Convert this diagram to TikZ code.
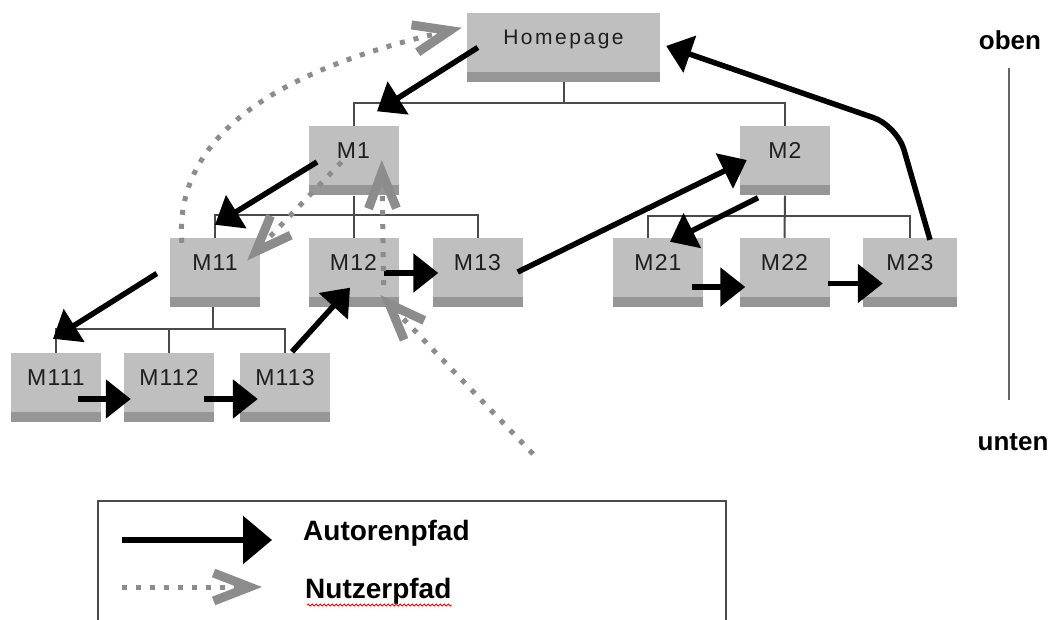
\documentclass[tikz,border=0pt]{standalone}
\usepackage{fontspec}
\setmainfont{Liberation Sans}
\newfontfamily\pagefont[LetterSpace=5]{Liberation Sans}
\newfontfamily\homefont[LetterSpace=12]{Liberation Sans}
\usetikzlibrary{arrows.meta,calc,shadows,decorations.pathmorphing}
\definecolor{PageGray}{HTML}{BFBFBF}
\definecolor{PageShade}{HTML}{969696}
\definecolor{TreeGray}{HTML}{4A4A4A}
\definecolor{UserGray}{HTML}{8C8C8C}
\definecolor{LabelGray}{HTML}{1E1E1E}
\tikzset{
  page/.style={rectangle, fill=PageGray, minimum width=90pt, minimum height=59pt,
    inner sep=0pt, text=LabelGray, font=\pagefont\fontsize{23}{23}\selectfont,
    text height=16.5pt, text depth=11pt,
    general shadow={shadow yshift=-10pt, fill=PageShade}},
  tree/.style={TreeGray, line width=2pt},
  autorpfad/.style={line width=5.5pt, -{Triangle[length=25pt,width=38pt]}},
  nutzerpfad/.style={UserGray, line width=5pt,
    dash pattern=on 5pt off 9pt,
    -{Straight Barb[length=36pt,width=28pt,line width=9pt]}},
  legendtext/.style={inner sep=0pt, font=\bfseries\fontsize{28}{28}\selectfont},
  scaletext/.style={inner sep=0pt, font=\bfseries\fontsize{26}{26}\selectfont},
}

\begin{document}
\begin{tikzpicture}[x=1pt,y=-1pt]
    \useasboundingbox (0,0) rectangle (1054,620);

    % pages of the site
    \node[page, minimum width=193pt, font=\homefont\fontsize{21}{21}\selectfont,
          text height=15pt] at (563.5,42.5) (Home) {Homepage};
    \node[page] at (353.5,156)   (M1)   {M1};
    \node[page] at (785,156)     (M2)   {M2};
    \node[page] at (215,267.5)   (M11)  {M11};
    \node[page] at (353.5,267.5) (M12)  {M12};
    \node[page] at (477.5,267.5) (M13)  {M13};
    \node[page] at (658,267.5)   (M21)  {M21};
    \node[page] at (784.5,267.5) (M22)  {M22};
    \node[page, minimum width=94pt] at (910,267.5) (M23) {M23};
    \node[page] at (56,382.5)    (M111) {M111};
    \node[page] at (169,382.5)   (M112) {M112};
    \node[page] at (285,382.5)   (M113) {M113};

    % hierarchy
    \coordinate (busA) at (0,103);
    \coordinate (busB) at (0,215);
    \coordinate (busC) at (0,216);
    \coordinate (busD) at (0,329);
    \draw[tree] ($(Home.south)+(0,10)$) -- (Home.south |- busA);
    \draw[tree] (M1.north) |- (M2.north |- busA) -- (M2.north);
    \draw[tree] ($(M1.south)+(0,10)$) -- (M12.north);
    \draw[tree] (M11.north) |- (M13.north |- busB) -- (M13.north);
    \draw[tree] ($(M2.south)+(0,10)$) -- (M22.north);
    \draw[tree] ($(M21.north)+(-10,0)$) |- (M23.north |- busC) -- (M23.north);
    \draw[tree] ($(M11.south)+(-2,10)$) -- ($(M11.south |- busD)+(-2,0)$);
    \draw[tree] (M111.north) |- (M113.north |- busD) -- (M113.north);
    \draw[tree] (M112.north) -- (M112.north |- busD);

    % path of the authors
    \draw[autorpfad] ($(Home.west)+(11,5)$) -- ($(M1.north)+(23.5,-15)$);
    \draw[autorpfad] ($(M1.center)+(-36.5,6)$) -- ($(M11.north)+(0,-13)$);
    \draw[autorpfad] ($(M11.west)+(-13,6)$) -- ($(M111.north)+(-3,-14)$);
    \draw[autorpfad] ($(M111.east)+(-23,16.5)$) -- ($(M112.west)+(7,16.5)$);
    \draw[autorpfad] ($(M112.east)+(-10,16.5)$) -- ($(M113.west)+(18,16.5)$);
    \draw[autorpfad] ($(M113.north)+(7,-1)$) -- ($(M12.south)+(-3.5,-9.5)$);
    \draw[autorpfad] ($(M12.east)+(-15,5.5)$) -- ($(M13.west)+(6,5.5)$);
    \draw[autorpfad] ($(M13.east)+(-5,4.5)$) -- ($(M2.west)+(7,4)$);
    \draw[autorpfad] ($(M2.south)+(-27,12)$) -- ($(M21.north)+(12,4)$);
    \draw[autorpfad] ($(M21.east)+(-11,19.5)$) -- ($(M22.west)+(6,19.5)$);
    \draw[autorpfad] ($(M22.east)+(-2,16)$) -- ($(M23.west)+(20,16)$);
    \draw[autorpfad, rounded corners=25pt] ($(M23.north)+(20,2)$)
        -- ($(M23.north)+(-13,-112)$) -- ($(Home.east)+(6,3.5)$);

    % path of the users
    \coordinate (entry) at (533,454);
    \draw[nutzerpfad] (entry) -- ($(M12.south east)+(-18,-2)$);
    \draw[nutzerpfad] ($(M12.south east)+(-15,-12)$) -- ($(M1.east)+(-17,4)$);
    \draw[nutzerpfad] ($(M1.center)+(-12,6)$) -- ($(M11.east)+(-13,-7)$);
    \draw[nutzerpfad] ($(M11.north west)+(12,5)$) .. controls +(-9,-118) and +(-162,37)
        .. ($(Home.north west)+(-5,15)$);

    % legend
    \draw[TreeGray, line width=2pt] (98,625) -- (98,501) -- (726,501) -- (726,625);
    \node[legendtext, anchor=base west] at (303,540) (autorText)  {Autorenpfad};
    \node[legendtext, anchor=base west] at (305,598) (nutzerText) {Nutzerpfad};
    \coordinate (autorStart)  at (122,540);
    \coordinate (nutzerStart) at (122,587);
    \draw[line width=6pt, -{Triangle[length=29pt,width=47pt]}]
        (autorStart) -- ($(autorText.base west)+(-31,0)$);
    \draw[nutzerpfad] (nutzerStart) -- ($(nutzerText.base west)+(-43,-11)$);
    \draw[red, line width=0.8pt, decorate,
          decoration={snake, amplitude=1pt, segment length=4pt}]
        ($(nutzerText.base west)+(2,7)$) -- ($(nutzerText.base east)+(0,7)$);

    % top and bottom
    \node[scaletext, anchor=base] at (1010,50)  (oben)  {oben};
    \node[scaletext, anchor=base] at (1013,450) (unten) {unten};
    \draw[TreeGray!85, line width=2.5pt] ($(oben.base)+(-1,18)$) -- ($(unten.base)+(-4,-50)$);
\end{tikzpicture}
\end{document}
